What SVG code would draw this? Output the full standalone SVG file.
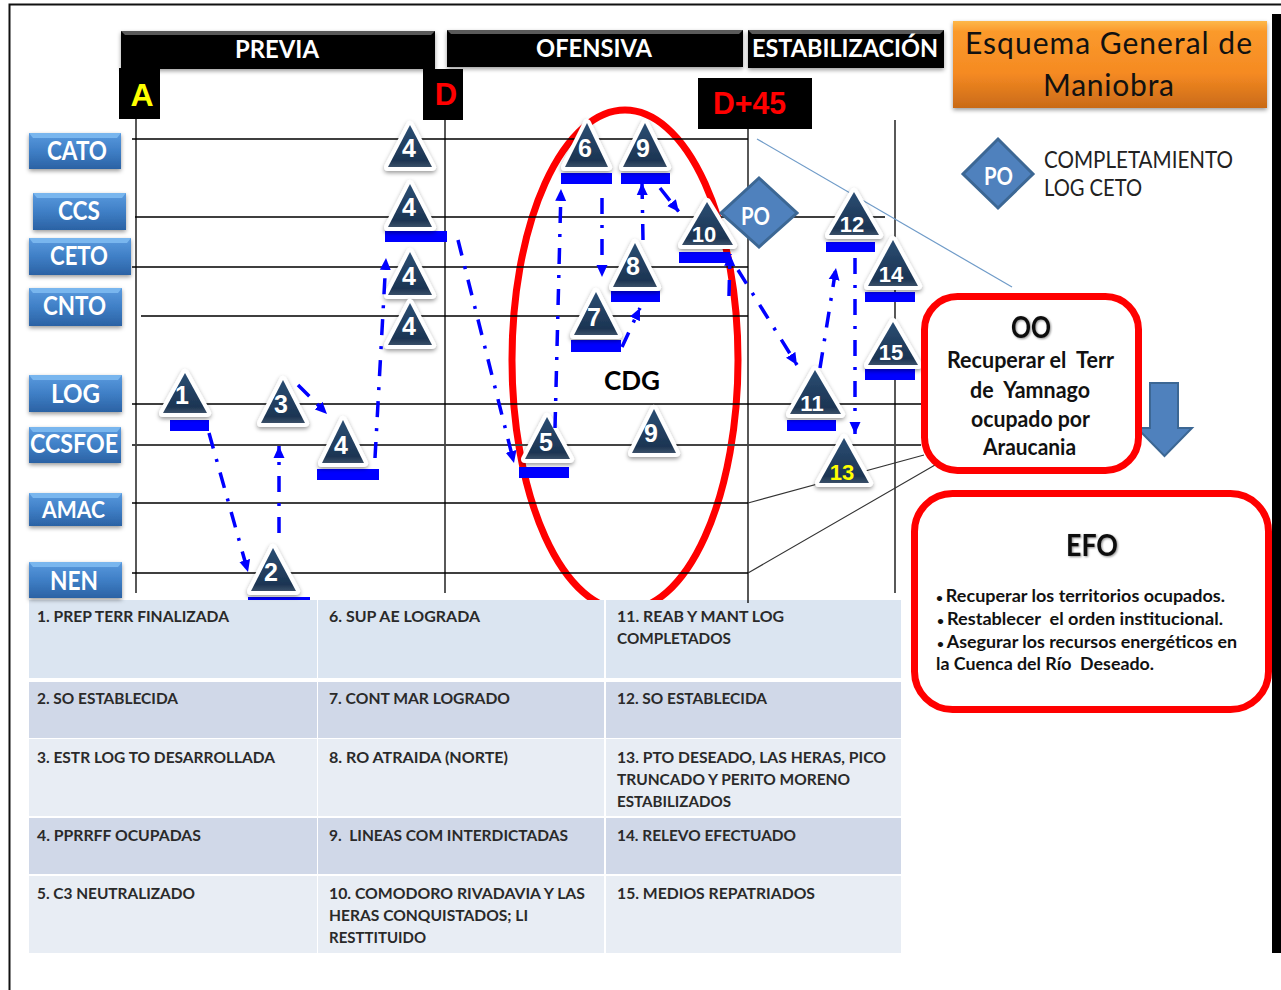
<svg xmlns="http://www.w3.org/2000/svg" width="1281" height="990" viewBox="0 0 1281 990">
<style>
text{font-family:"Lato","Carlito","Liberation Sans",sans-serif;white-space:pre}
.hd{fill:#fff;font-weight:700;font-size:25px}
.lb{fill:#fff;font-weight:700;font-size:27px}
.cell{fill:#2a2a2a;font-weight:700;font-size:15.5px}
.num{fill:#fff;font-family:"Liberation Sans",sans-serif;font-weight:700;font-size:25px;text-anchor:middle}
.n2{font-size:22px}
.tri{fill:url(#gt);stroke:#fff;stroke-width:8;stroke-linejoin:round;paint-order:stroke fill;filter:url(#sh)}
.bar{fill:#0000ff}
.g{stroke:#000;stroke-width:1.3;fill:none}
.flow{fill:none;stroke:#0000ff;stroke-width:3.5;stroke-dasharray:16 11 3 11;marker-end:url(#ah)}
.blk{fill:#000}
.big{font-family:"Liberation Sans",sans-serif;font-weight:700}
.dia{fill:#4f81bd;stroke:#3c6794;stroke-width:3}
.po{fill:#fff;font-size:24px;font-weight:700}
.rb{fill:#fff;stroke:#ff0000;stroke-width:7}
.t{fill:#111;font-weight:700}
.lbbox{fill:url(#gb);filter:url(#sh)}
.lbtop{fill:#79b6ee}
.hdbox{fill:#000;filter:url(#sh)}
.hdtop{fill:#5a5a5a}
.bul{font-size:11px}
</style>
<defs>
<linearGradient id="gt" x1="0" y1="0" x2="0" y2="1"><stop offset="0" stop-color="#2a4d73"/><stop offset=".85" stop-color="#1d3553"/><stop offset="1" stop-color="#3a5068"/></linearGradient>
<linearGradient id="gb" x1="0" y1="0" x2="0" y2="1"><stop offset="0" stop-color="#5a9ade"/><stop offset=".5" stop-color="#3f7fc6"/><stop offset="1" stop-color="#2b62a4"/></linearGradient>
<linearGradient id="go" x1="0" y1="0" x2="0" y2="1"><stop offset="0" stop-color="#fdb84a"/><stop offset=".12" stop-color="#fb9a2c"/><stop offset=".6" stop-color="#f58a22"/><stop offset="1" stop-color="#c96a18"/></linearGradient>
<filter id="sh" x="-20%" y="-20%" width="140%" height="150%"><feDropShadow dx="0" dy="2" stdDeviation="2" flood-color="#000" flood-opacity=".4"/></filter>
<filter id="ts" x="-20%" y="-20%" width="140%" height="140%"><feDropShadow dx="1" dy="1" stdDeviation="1" flood-color="#000" flood-opacity=".45"/></filter>
<marker id="ah" markerUnits="userSpaceOnUse" markerWidth="13" markerHeight="12" refX="12" refY="6" orient="auto"><path d="M0,0.5 L12,6 L0,11.5 z" fill="#0000ff"/></marker>
</defs>
<rect width="1281" height="990" fill="#fff"/>
<g id="frame">
<path d="M9.5,990 V4.5 H1281" fill="none" stroke="#111" stroke-width="2"/>
<rect class="blk" x="1272" y="14" width="9" height="939"/>
</g>
<g id="cdg-ellipse"><ellipse cx="625" cy="360" rx="113" ry="250" fill="none" stroke="#ff0000" stroke-width="7"/></g>
<g id="table">
<rect x="29" y="600" width="872" height="353" fill="#fff"/>
<rect x="29" y="600" width="288" height="78" fill="#dbe5f1"/><rect x="318" y="600" width="286" height="78" fill="#dbe5f1"/><rect x="606" y="600" width="295" height="78" fill="#dbe5f1"/>
<rect x="29" y="682" width="288" height="56" fill="#d0d8e8"/><rect x="318" y="682" width="286" height="56" fill="#d0d8e8"/><rect x="606" y="682" width="295" height="56" fill="#d0d8e8"/>
<rect x="29" y="739" width="288" height="77" fill="#e8edf4"/><rect x="318" y="739" width="286" height="77" fill="#e8edf4"/><rect x="606" y="739" width="295" height="77" fill="#e8edf4"/>
<rect x="29" y="818" width="288" height="56" fill="#d0d8e8"/><rect x="318" y="818" width="286" height="56" fill="#d0d8e8"/><rect x="606" y="818" width="295" height="56" fill="#d0d8e8"/>
<rect x="29" y="876" width="288" height="77" fill="#e8edf4"/><rect x="318" y="876" width="286" height="77" fill="#e8edf4"/><rect x="606" y="876" width="295" height="77" fill="#e8edf4"/>
<text class="cell" x="37" y="622" textLength="192" lengthAdjust="spacingAndGlyphs">1. PREP TERR FINALIZADA</text>
<text class="cell" x="37" y="704" textLength="141" lengthAdjust="spacingAndGlyphs">2. SO ESTABLECIDA</text>
<text class="cell" x="37" y="763" textLength="238" lengthAdjust="spacingAndGlyphs">3. ESTR LOG TO DESARROLLADA</text>
<text class="cell" x="37" y="841" textLength="164" lengthAdjust="spacingAndGlyphs">4. PPRRFF OCUPADAS</text>
<text class="cell" x="37" y="899" textLength="158" lengthAdjust="spacingAndGlyphs">5. C3 NEUTRALIZADO</text>
<text class="cell" x="329" y="622" textLength="151" lengthAdjust="spacingAndGlyphs">6. SUP AE LOGRADA</text>
<text class="cell" x="329" y="704" textLength="181" lengthAdjust="spacingAndGlyphs">7. CONT MAR LOGRADO</text>
<text class="cell" x="329" y="763" textLength="179" lengthAdjust="spacingAndGlyphs">8. RO ATRAIDA (NORTE)</text>
<text class="cell" x="329" y="841" textLength="239" lengthAdjust="spacingAndGlyphs">9.  LINEAS COM INTERDICTADAS</text>
<text class="cell" x="329" y="899" textLength="256" lengthAdjust="spacingAndGlyphs">10. COMODORO RIVADAVIA Y LAS</text>
<text class="cell" x="329" y="921" textLength="199" lengthAdjust="spacingAndGlyphs">HERAS CONQUISTADOS; LI</text>
<text class="cell" x="329" y="943" textLength="97" lengthAdjust="spacingAndGlyphs">RESTTITUIDO</text>
<text class="cell" x="617" y="622" textLength="167" lengthAdjust="spacingAndGlyphs">11. REAB Y MANT LOG</text>
<text class="cell" x="617" y="644" textLength="114" lengthAdjust="spacingAndGlyphs">COMPLETADOS</text>
<text class="cell" x="617" y="704" textLength="150" lengthAdjust="spacingAndGlyphs">12. SO ESTABLECIDA</text>
<text class="cell" x="617" y="763" textLength="269" lengthAdjust="spacingAndGlyphs">13. PTO DESEADO, LAS HERAS, PICO</text>
<text class="cell" x="617" y="785" textLength="233" lengthAdjust="spacingAndGlyphs">TRUNCADO Y PERITO MORENO</text>
<text class="cell" x="617" y="807" textLength="114" lengthAdjust="spacingAndGlyphs">ESTABILIZADOS</text>
<text class="cell" x="617" y="841" textLength="179" lengthAdjust="spacingAndGlyphs">14. RELEVO EFECTUADO</text>
<text class="cell" x="617" y="899" textLength="198" lengthAdjust="spacingAndGlyphs">15. MEDIOS REPATRIADOS</text>
</g>
<g id="grid">
<path class="g" d="M136,119V593 M445,120V593 M748,129V603 M895,120V593"/>
<path class="g" d="M132,139H748 M135,217H885 M132,267H748 M141,316H748 M132,404H921 M132,503H748 M132,573H748"/>
<path d="M132,445H921" stroke="#444" stroke-width="1.8" fill="none"/>
<path d="M748,503L924,455 M748,573L935,465" stroke="#333" stroke-width="1.1" fill="none"/>
<path d="M757,139L1012,287" stroke="#6f9bc8" stroke-width="1.2" fill="none"/>
</g>
<g id="phase-previa"><rect class="hdbox" x="121" y="31" width="314" height="38"/><path class="hdtop" d="M121,31H435L431,35H125z"/><text class="hd" x="235" y="58" textLength="84" lengthAdjust="spacingAndGlyphs">PREVIA</text></g>
<g id="phase-ofensiva"><rect class="hdbox" x="447" y="30" width="296" height="37"/><path class="hdtop" d="M447,30H743L739,34H451z"/><text class="hd" x="536" y="57" textLength="116" lengthAdjust="spacingAndGlyphs">OFENSIVA</text></g>
<g id="phase-estabilizacion"><rect class="hdbox" x="748" y="30" width="196" height="38"/><path class="hdtop" d="M748,30H944L940,34H752z"/><text class="hd" x="752" y="57" textLength="186" lengthAdjust="spacingAndGlyphs">ESTABILIZACIÓN</text></g>
<g id="mark-a"><rect class="blk" x="119" y="68" width="41" height="51"/><text class="big" x="142" y="106" font-size="32" fill="#ffff00" text-anchor="middle">A</text></g>
<g id="mark-d"><rect class="blk" x="423" y="69" width="40" height="51"/><text class="big" x="446" y="105" font-size="31" fill="#ff0000" text-anchor="middle">D</text></g>
<g id="mark-d45"><rect class="blk" x="698" y="78" width="114" height="51"/><text class="big" x="713" y="114" font-size="32" fill="#ff0000" textLength="73" lengthAdjust="spacingAndGlyphs">D+45</text></g>
<g id="title"><rect x="953" y="21" width="314" height="87" fill="url(#go)" filter="url(#sh)"/><text x="965" y="54" font-size="30" fill="#111" textLength="287" lengthAdjust="spacing">Esquema General de</text><text x="1043" y="96" font-size="30" fill="#111" textLength="131" lengthAdjust="spacing">Maniobra</text></g>
<g id="org-cato"><rect class="lbbox" x="29" y="133" width="92" height="36"/><path class="lbtop" d="M29,133H121L117,138H33z"/><text class="lb" x="47" y="160" textLength="60" lengthAdjust="spacingAndGlyphs">CATO</text></g>
<g id="org-ccs"><rect class="lbbox" x="33" y="193" width="93" height="37"/><path class="lbtop" d="M33,193H126L122,198H37z"/><text class="lb" x="58" y="220" textLength="42" lengthAdjust="spacingAndGlyphs">CCS</text></g>
<g id="org-ceto"><rect class="lbbox" x="29" y="238" width="102" height="37"/><path class="lbtop" d="M29,238H131L127,243H33z"/><text class="lb" x="50" y="265" textLength="58" lengthAdjust="spacingAndGlyphs">CETO</text></g>
<g id="org-cnto"><rect class="lbbox" x="29" y="288" width="93" height="38"/><path class="lbtop" d="M29,288H122L118,293H33z"/><text class="lb" x="43" y="315" textLength="63" lengthAdjust="spacingAndGlyphs">CNTO</text></g>
<g id="org-log"><rect class="lbbox" x="29" y="375" width="93" height="37"/><path class="lbtop" d="M29,375H122L118,380H33z"/><text class="lb" x="51" y="403" textLength="49" lengthAdjust="spacingAndGlyphs">LOG</text></g>
<g id="org-ccsfoe"><rect class="lbbox" x="29" y="427" width="92" height="36"/><path class="lbtop" d="M29,427H121L117,432H33z"/><text class="lb" x="30" y="453" textLength="88" lengthAdjust="spacingAndGlyphs">CCSFOE</text></g>
<g id="org-amac"><rect class="lbbox" x="29" y="493" width="93" height="33"/><path class="lbtop" d="M29,493H122L118,498H33z"/><text class="lb" x="42" y="518" style="font-size:23px" textLength="63" lengthAdjust="spacingAndGlyphs">AMAC</text></g>
<g id="org-nen"><rect class="lbbox" x="29" y="562" width="93" height="36"/><path class="lbtop" d="M29,562H122L118,567H33z"/><text class="lb" x="50" y="590" textLength="48" lengthAdjust="spacingAndGlyphs">NEN</text></g>
<g id="po-node"><path class="dia" d="M759,178L797,213L759,247L721,213z"/><text class="po" x="741" y="225" textLength="29" lengthAdjust="spacingAndGlyphs">PO</text></g>
<g id="legend"><path class="dia" d="M998,139L1033,174L998,208L963,174z"/><text class="po" x="984" y="185" textLength="29" lengthAdjust="spacingAndGlyphs">PO</text><text x="1044" y="168" font-size="23" fill="#222" textLength="189" lengthAdjust="spacingAndGlyphs">COMPLETAMIENTO</text><text x="1044" y="196" font-size="23" fill="#222" textLength="98" lengthAdjust="spacingAndGlyphs">LOG CETO</text></g>
<g id="cdg-label"><text x="604" y="390" font-size="27" font-weight="700" fill="#000" textLength="56" lengthAdjust="spacingAndGlyphs">CDG</text></g>
<g id="m1"><rect class="bar" x="170" y="420" width="39" height="11"/><polygon class="tri" points="185,373 207,413 163,413"/><text class="num" x="182" y="404">1</text></g>
<g id="m2"><rect class="bar" x="248" y="597" width="62" height="3"/><polygon class="tri" points="273,548 296,591 251,591"/><text class="num" x="271" y="581">2</text></g>
<g id="m3"><polygon class="tri" points="283,380 305,423 261,423"/><text class="num" x="281" y="413">3</text></g>
<g id="m4a"><rect class="bar" x="317" y="469" width="62" height="11"/><polygon class="tri" points="343,420 364,463 322,463"/><text class="num" x="341" y="454">4</text></g>
<g id="m4b"><polygon class="tri" points="410,125 432,167 388,167"/><text class="num" x="409" y="157">4</text></g>
<g id="m4c"><rect class="bar" x="385" y="231" width="62" height="11"/><polygon class="tri" points="410,184 432,227 388,227"/><text class="num" x="409" y="216">4</text></g>
<g id="m4d"><polygon class="tri" points="410,252 432,295 388,295"/><text class="num" x="409" y="285">4</text></g>
<g id="m4e"><polygon class="tri" points="410,303 432,345 388,345"/><text class="num" x="409" y="335">4</text></g>
<g id="m5"><rect class="bar" x="519" y="467" width="50" height="11"/><polygon class="tri" points="547,417 570,459 525,459"/><text class="num" x="546" y="451">5</text></g>
<g id="m6"><rect class="bar" x="561" y="173" width="51" height="11"/><polygon class="tri" points="587,123 608,167 565,167"/><text class="num" x="585" y="157">6</text></g>
<g id="m7"><rect class="bar" x="571" y="340" width="50" height="12"/><polygon class="tri" points="596,292 618,335 574,335"/><text class="num" x="594" y="326">7</text></g>
<g id="m8"><rect class="bar" x="611" y="291" width="49" height="11"/><polygon class="tri" points="635,243 657,287 613,287"/><text class="num" x="633" y="275">8</text></g>
<g id="m9a"><rect class="bar" x="621" y="173" width="49" height="11"/><polygon class="tri" points="645,123 667,167 623,167"/><text class="num" x="643" y="157">9</text></g>
<g id="m9b"><polygon class="tri" points="654,409 676,453 632,453"/><text class="num" x="651" y="442">9</text></g>
<g id="m10"><rect class="bar" x="679" y="252" width="51" height="11"/><polygon class="tri" points="707,202 733,245 682,245"/><text class="num n2" x="704" y="242">10</text></g>
<g id="m11"><rect class="bar" x="787" y="420" width="49" height="11"/><polygon class="tri" points="815,370 841,414 790,414"/><text class="num n2" x="812" y="411">11</text></g>
<g id="m12"><rect class="bar" x="826" y="242" width="49" height="10"/><polygon class="tri" points="854,192 879,235 829,235"/><text class="num n2" x="852" y="232">12</text></g>
<g id="m13"><polygon class="tri" points="844,438 869,483 819,483"/><text class="num n2" x="842" y="480" style="fill:#ffff00">13</text></g>
<g id="m14"><rect class="bar" x="865" y="292" width="50" height="10"/><polygon class="tri" points="893,240 918,286 868,286"/><text class="num n2" x="891" y="282">14</text></g>
<g id="m15"><rect class="bar" x="865" y="369" width="50" height="11"/><polygon class="tri" points="893,322 918,365 868,365"/><text class="num n2" x="891" y="360">15</text></g>
<g id="connectors">
<path class="flow" d="M209,433L248,572"/>
<path class="flow" d="M279,533V446"/>
<path class="flow" d="M298,385L327,414"/>
<path class="flow" d="M375,458L386,258"/>
<path class="flow" d="M458,240L514,463"/>
<path class="flow" d="M555,428L561,189"/>
<path class="flow" d="M602,198V277"/>
<path class="flow" d="M622,347L640,308"/>
<path class="flow" d="M643,240L642,183"/>
<path class="flow" d="M660,188L679,212"/>
<path class="flow" d="M729,296L730,254"/>
<path class="flow" d="M738,270L797,365"/>
<path class="flow" d="M820,368L836,268"/>
<path class="flow" d="M855,258V434"/>
</g>
<g id="down-arrow"><path d="M1150,383H1178V428H1192L1164.5,456L1137,428H1150z" fill="#4f81bd" stroke="#3c6794" stroke-width="2"/></g>
<g id="oo"><rect class="rb" x="924.5" y="296.5" width="214" height="174" rx="33"/>
<text class="t" x="1011" y="338" font-size="31" filter="url(#ts)" textLength="40" lengthAdjust="spacingAndGlyphs">OO</text>
<text class="t" x="947" y="368" font-size="23" textLength="167" lengthAdjust="spacingAndGlyphs">Recuperar el  Terr</text>
<text class="t" x="970" y="398" font-size="23" textLength="120" lengthAdjust="spacingAndGlyphs">de  Yamnago</text>
<text class="t" x="971" y="427" font-size="23" textLength="119" lengthAdjust="spacingAndGlyphs">ocupado por</text>
<text class="t" x="983" y="455" font-size="23" textLength="93" lengthAdjust="spacingAndGlyphs">Araucania</text></g>
<g id="efo"><rect class="rb" x="914.5" y="493.5" width="354" height="216" rx="38"/>
<text class="t" x="1066" y="556" font-size="31" filter="url(#ts)" textLength="52" lengthAdjust="spacingAndGlyphs">EFO</text>
<text class="t" x="936" y="602" font-size="16.5" textLength="289" lengthAdjust="spacingAndGlyphs"><tspan class="bul">• </tspan>Recuperar los territorios ocupados.</text>
<text class="t" x="937" y="625" font-size="16.5" textLength="286" lengthAdjust="spacingAndGlyphs"><tspan class="bul">• </tspan>Restablecer  el orden institucional.</text>
<text class="t" x="937" y="648" font-size="16.5" textLength="300" lengthAdjust="spacingAndGlyphs"><tspan class="bul">• </tspan>Asegurar los recursos energéticos en</text>
<text class="t" x="936" y="670" font-size="16.5" textLength="218" lengthAdjust="spacingAndGlyphs">la Cuenca del Río  Deseado.</text></g>
<rect class="blk" x="1272" y="490" width="9" height="230"/>
</svg>
